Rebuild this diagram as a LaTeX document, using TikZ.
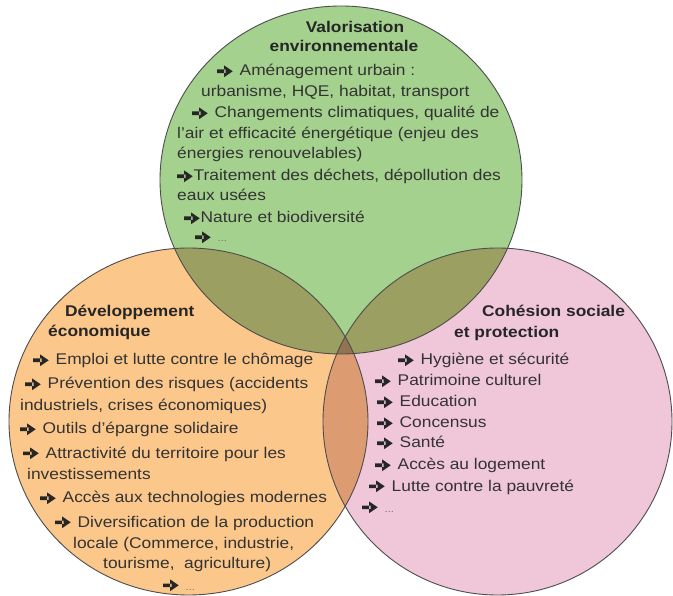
\documentclass[tikz,border=0pt]{standalone}
\usepackage{fontspec}
\setmainfont{Liberation Sans}[FakeStretch=1.12]
\definecolor{greenC}{HTML}{A4D18E}
\definecolor{orangeC}{HTML}{FCC78B}
\definecolor{pinkC}{HTML}{F0C6D9}
\definecolor{oliveC}{HTML}{9C9F62}
\definecolor{orpinkC}{HTML}{DC9B71}
\definecolor{tripleC}{HTML}{937452}
\definecolor{edgeC}{HTML}{4D4D4D}
\definecolor{txtC}{HTML}{333333}
\newcommand\arw{\tikz[baseline=0pt,x=1pt,y=1pt]{\fill[black!85] (0,2.9) rectangle (8.5,6.5) (7,-1.1)--(15.5,4.7)--(7,10.5)--cycle;}}
\newcommand\arsp{\hspace{7pt}}
\newcommand\dts{{\fontsize{10}{12}\selectfont\color{black!55}...}}
\begin{document}
\begin{tikzpicture}[x=1pt,y=-1pt,
  tx/.style={font=\fontsize{15.5}{18}\selectfont, text=txtC, inner sep=0pt, anchor=base west},
  hd/.style={font=\fontsize{15.5}{18}\selectfont\bfseries, text=black!85, inner sep=0pt, anchor=base west},
  edge/.style={draw=edgeC, line width=0.9pt}]
\useasboundingbox (0,0) rectangle (673,596);
\fill[white] (0,0) rectangle (673,596);
% base fills
\fill[greenC] (341,180) ellipse [x radius=181pt, y radius=174pt];
\fill[orangeC] (188.5,421.5) ellipse [x radius=179.5pt, y radius=173.5pt];
\fill[pinkC] (497.5,421.5) ellipse [x radius=174.5pt, y radius=173.5pt];
% overlaps
\begin{scope}
  \clip (341,180) ellipse [x radius=181pt, y radius=174pt];
  \fill[oliveC] (188.5,421.5) ellipse [x radius=179.5pt, y radius=173.5pt];
  \fill[oliveC] (497.5,421.5) ellipse [x radius=174.5pt, y radius=173.5pt];
\end{scope}
\begin{scope}
  \clip (188.5,421.5) ellipse [x radius=179.5pt, y radius=173.5pt];
  \fill[orpinkC] (497.5,421.5) ellipse [x radius=174.5pt, y radius=173.5pt];
  \clip (497.5,421.5) ellipse [x radius=174.5pt, y radius=173.5pt];
  \fill[tripleC] (341,180) ellipse [x radius=181pt, y radius=174pt];
\end{scope}
% outlines
\draw[edge] (341,180) ellipse [x radius=181pt, y radius=174pt];
\draw[edge] (188.5,421.5) ellipse [x radius=179.5pt, y radius=173.5pt];
\draw[edge] (497.5,421.5) ellipse [x radius=174.5pt, y radius=173.5pt];
% green text
\node[hd, anchor=base] (gh1) at (355,33) {Valorisation};
\node[hd, anchor=base] (gh2) at (344,52) {environnementale};
\node[tx] (g1) at (217,76) {\arw\arsp Aménagement urbain :};
\node[tx] (g2) at (201,97) {urbanisme, HQE, habitat, transport};
\node[tx] (g3) at (192,118) {\arw\arsp Changements climatiques, qualité de};
\node[tx] (g4) at (177,139) {l'air et efficacité énergétique (enjeu des};
\node[tx] (g5) at (177,159) {énergies renouvelables)};
\node[tx] (g6) at (177,181) {\arw\hspace{1pt}Traitement des déchets, dépollution des};
\node[tx] (g7) at (177,201) {eaux usées};
\node[tx] (g8) at (184,223) {\arw\hspace{1pt}Nature et biodiversité};
\node[tx] (g9) at (195,242) {\arw\arsp\dts};
% orange text
\node[hd] (oh1) at (65,317) {Développement};
\node[hd] (oh2) at (48,337) {économique};
\node[tx] (o1) at (33,365) {\arw\arsp Emploi et lutte contre le chômage};
\node[tx] (o2) at (25,389) {\arw\arsp Prévention des risques (accidents};
\node[tx] (o3) at (20,410) {industriels, crises économiques)};
\node[tx] (o4) at (20,434) {\arw\arsp Outils d'épargne solidaire};
\node[tx] (o5) at (23,458) {\arw\arsp Attractivité du territoire pour les};
\node[tx] (o6) at (27,479) {investissements};
\node[tx] (o7) at (40,503) {\arw\arsp Accès aux technologies modernes};
\node[tx] (o8) at (55,527) {\arw\arsp Diversification de la production};
\node[tx] (o9) at (73,548) {locale (Commerce, industrie,};
\node[tx] (o10) at (103,568) {tourisme,\ \ agriculture)};
\node[tx] (o11) at (163,590) {\arw\arsp\dts};
% pink text
\node[hd] (ph1) at (482,317) {Cohésion sociale};
\node[hd] (ph2) at (454,338) {et protection};
\node[tx] (p1) at (398,365) {\arw\arsp Hygiène et sécurité};
\node[tx] (p2) at (375,386) {\arw\arsp Patrimoine culturel};
\node[tx] (p3) at (377,407) {\arw\arsp Education};
\node[tx] (p4) at (377,428) {\arw\arsp Concensus};
\node[tx] (p5) at (377,448) {\arw\arsp Santé};
\node[tx] (p6) at (375,470) {\arw\arsp Accès au logement};
\node[tx] (p7) at (369,491) {\arw\arsp Lutte contre la pauvreté};
\node[tx] (p8) at (362,512) {\arw\arsp\dts};
\end{tikzpicture}
\end{document}
